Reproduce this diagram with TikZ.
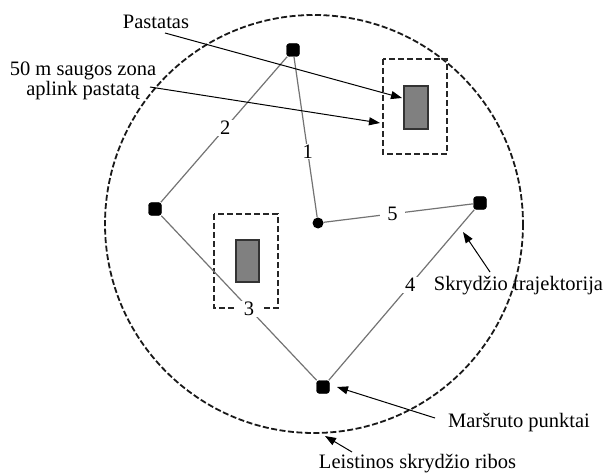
\documentclass[tikz,border=0pt]{standalone}
\usepackage{fontspec}
\setmainfont{Liberation Serif}
\usetikzlibrary{arrows.meta}
\begin{document}
\begin{tikzpicture}[x=1pt,y=-1pt,
  every node/.style={font=\fontsize{20.5}{19.5}\selectfont, inner sep=0pt},
  boundary/.style={draw=black!90, line width=1.8pt, dash pattern=on 6pt off 2.5pt},
  zone/.style={draw=black!85, line width=1.5pt, dash pattern=on 6pt off 3pt},
  building/.style={draw=black!80, line width=1.6pt, fill=black!50},
  waypoint/.style={fill=black, draw=black, rounded corners=3pt, minimum size=13pt},
  waypointround/.style={circle, fill=black, minimum size=11pt},
  route/.style={draw=black!55, line width=1.2pt},
  seglabel/.style={fill=white, inner xsep=7pt, inner ysep=1pt},
  pointer/.style={draw=black, line width=1pt, -{Triangle[length=11pt,width=8pt]}},
  caption/.style={anchor=base, align=center}
]
\useasboundingbox (0,0) rectangle (610,473);

% permitted flight boundary
\draw[boundary] (314,224) circle[radius=209];

% buildings with their 50 m safety zones
\draw[zone] (383,59) rectangle (447,154);
\node[building, minimum width=24pt, minimum height=43pt] (bldA) at (416,107.5) {};
\draw[zone] (214,214) rectangle (278,308);
\node[building, minimum width=23pt, minimum height=42pt] (bldB) at (247.5,261) {};

% route waypoints
\node[waypoint] (w1) at (293,50) {};
\node[waypointround] (w2) at (318,223) {};
\node[waypoint] (w3) at (480,203) {};
\node[waypoint] (w4) at (323,387) {};
\node[waypoint] (w5) at (155,209) {};

% flight trajectory with numbered legs
\draw[route] (w1) -- node[seglabel, pos=0.59] {1} (w2);
\draw[route] (w2) -- node[seglabel, pos=0.46] {5} (w3);
\draw[route] (w3) -- node[seglabel, pos=0.44] {4} (w4);
\draw[route] (w5) -- node[seglabel, pos=0.565] {3} (w4);
\draw[route] (w1) -- node[seglabel, pos=0.49] {2} (w5);

% captions
\node[caption] (tBld) at (156,29) {Pastatas};
\node[align=center] (tZone) at (83,81) {50 m saugos zona\\aplink pastatą};
\node[caption] (tTraj) at (518.5,290) {Skrydžio trajektorija};
\node[caption] (tWp) at (519,427) {Maršruto punktai};
\node[caption] (tBound) at (417.5,468) {Leistinos skrydžio ribos};

% pointer ends
\coordinate (pBld) at (165,33);
\coordinate (pZone) at (150,87);
\coordinate (pTraj) at (490,272);
\coordinate (pWp) at (435,418);
\coordinate (pBound) at (352,452);
\coordinate (eBld) at (402,98);
\coordinate (eZone) at (380,123);
\coordinate (eTraj) at (463,232);
\coordinate (eWp) at (337,387);
\coordinate (eBound) at (325,436);

\draw[pointer] (pBld) -- (eBld);
\draw[pointer] (pZone) -- (eZone);
\draw[pointer] (pTraj) -- (eTraj);
\draw[pointer] (pWp) -- (eWp);
\draw[pointer] (pBound) -- (eBound);
\end{tikzpicture}
\end{document}
